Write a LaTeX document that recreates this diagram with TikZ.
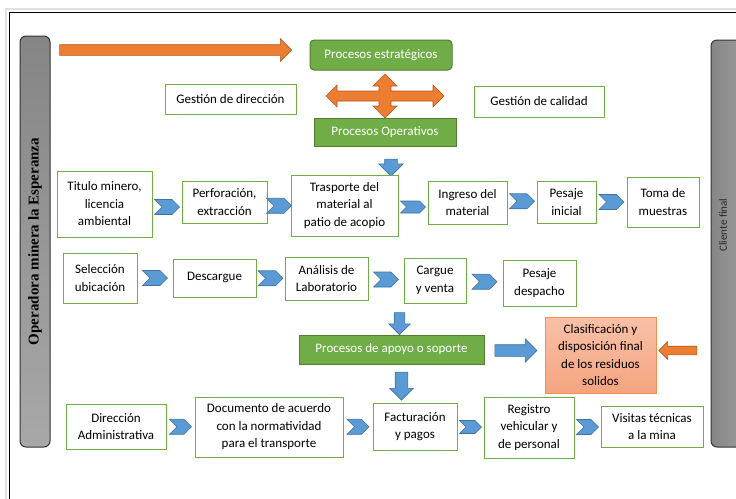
\documentclass[tikz,border=0pt]{standalone}
\usepackage{fontspec}
\setmainfont{Carlito}
\newfontfamily\tituloserif{Liberation Serif}
\usetikzlibrary{positioning,calc,shapes.symbols,shapes.arrows}
\definecolor{verde}{HTML}{70AD47}
\definecolor{verdeborde}{HTML}{507E32}
\definecolor{azul}{HTML}{5B9BD5}
\definecolor{azulborde}{HTML}{41719C}
\definecolor{naranja}{HTML}{ED7D31}
\definecolor{naranjaborde}{HTML}{AE5A21}
\definecolor{salmonclaro}{HTML}{F8C1A8}
\definecolor{salmon}{HTML}{F4A47F}
\definecolor{grisoscuro}{HTML}{858585}
\definecolor{grisclaro}{HTML}{A8A8A8}
\tikzset{
  caja/.style={draw=verde, fill=white, line width=1pt, align=center, inner sep=0pt,
    font=\fontsize{13}{17.5}\selectfont},
  proceso/.style={caja, fill=verde, draw=verdeborde, text=white},
  chevron/.style={signal, signal from=west, signal to=east, fill=azul, draw=azulborde,
    line width=0.6pt, minimum width=25pt, minimum height=15pt, inner sep=0pt},
  bloque/.style={single arrow, single arrow head indent=0pt, inner xsep=0pt, line width=0.6pt},
  bloqueazul/.style={bloque, fill=azul, draw=azulborde},
  bloquenaranja/.style={bloque, fill=naranja, draw=naranjaborde},
  bajada/.style={bloqueazul, shape border rotate=270, inner ysep=0pt},
  barra/.style={draw=black!80, rounded corners=6pt, line width=1pt, inner sep=0pt}
}

\begin{document}
\begin{tikzpicture}[x=1pt, y=-1pt]
  \clip (0,0) rectangle (736,498);
  \fill[white] (0,0) rectangle (736,498);
  % marcos
  \draw[black!12, line width=2pt] (6,9) rectangle (800,600);
  \draw[black, line width=1.2pt] (9.5,12.5) rectangle (800,600);

  % barras laterales
  \node[barra, rotate=90, top color=grisoscuro, bottom color=grisclaro,
    minimum width=411pt, minimum height=30pt,
    font=\tituloserif\bfseries\fontsize{15}{18}\selectfont] (operadora) at (35,241.5)
    {Operadora minera la Esperanza};
  \node[barra, left color=grisoscuro, right color=grisclaro,
    minimum width=50pt, minimum height=407pt] (cliente) at (736,243.5) {};
  \node[rotate=90, text=black!85, font=\fontsize{11}{14}\selectfont] (clientetxt)
    at (723,225) {Cliente final};

  % procesos estrategicos
  \node[proceso, rounded corners=4pt, minimum width=142pt, minimum height=30pt] (estr) at (381,55) {Procesos estratégicos};
  \node[caja, minimum width=131pt, minimum height=30pt] (direccion) at (230.5,99) {Gestión de dirección};
  \node[caja, minimum width=130pt, minimum height=31pt] (calidad) at (539,101.5) {Gestión de calidad};
  \node[proceso, minimum width=142pt, minimum height=28pt] (oper) at (385,132) {Procesos Operativos};

  \node[bloquenaranja, minimum height=232pt, inner ysep=5pt, single arrow head extend=6pt] (flechaestr) at (173,50) {};
  \draw[fill=naranja, draw=naranjaborde, line width=0.6pt]
    (385,74) -- (397,86) -- (391,86) -- (391,91) -- (433,91) -- (433,85) -- (444,96)
    -- (433,107) -- (433,101) -- (391,101) -- (391,106) -- (397,106) -- (385,118)
    -- (373,106) -- (379,106) -- (379,101) -- (337,101) -- (337,107) -- (326,96)
    -- (337,85) -- (337,91) -- (379,91) -- (379,86) -- (373,86) -- cycle;

  \node[bajada, minimum height=17pt, inner xsep=6pt, single arrow head extend=6pt] (baja1) at (391,164.5) {};

  % fila 1
  \node[caja, minimum width=95pt, minimum height=66pt] (titulo) at (104.5,204) {Titulo minero,\\licencia\\ambiental};
  \node[caja, minimum width=85pt, minimum height=42pt] (perf) at (224.5,202) {Perforación,\\extracción};
  \node[caja, minimum width=107pt, minimum height=61pt] (trasp) at (344.5,205.5) {Trasporte del\\material al\\patio de acopio};
  \node[caja, minimum width=79pt, minimum height=43pt] (ingreso) at (467.5,202.5) {Ingreso del\\material};
  \node[caja, minimum width=59pt, minimum height=42pt] (pesaje) at (566.5,202) {Pesaje\\inicial};
  \node[caja, minimum width=72pt, minimum height=50pt] (toma) at (663,202) {Toma de\\muestras};

  \node[chevron] (c1) at ($(titulo.east)!0.5!(perf.west)+(0,4)$) {};
  \node[chevron] (c2) at ($(perf.east)!0.5!(trasp.west)+(0,2)$) {};
  \node[chevron, minimum height=12pt] (c3) at ($(trasp.east)!0.5!(ingreso.west)+(0,3)$) {};
  \node[chevron] (c4) at ($(ingreso.east)!0.5!(pesaje.west)+(0,-1)$) {};
  \node[chevron] (c5) at ($(pesaje.east)!0.5!(toma.west)$) {};

  % fila 2
  \node[caja, minimum width=74pt, minimum height=50pt] (seleccion) at (100,278) {Selección\\ubicación};
  \node[caja, minimum width=83pt, minimum height=38pt] (descargue) at (214.5,278) {\raisebox{4pt}{Descargue}};
  \node[caja, minimum width=83pt, minimum height=43pt] (analisis) at (326.5,278.5) {Análisis de\\Laboratorio};
  \node[caja, minimum width=62pt, minimum height=45pt] (cargue) at (435,280.5) {Cargue\\y venta};
  \node[caja, minimum width=73pt, minimum height=46pt] (despacho) at (539.5,283) {Pesaje\\despacho};

  \node[chevron] (c6) at ($(seleccion.east)!0.5!(descargue.west)$) {};
  \node[chevron] (c7) at ($(descargue.east)!0.5!(analisis.west)$) {};
  \node[chevron] (c8) at ($(analisis.east)!0.5!(cargue.west)$) {};
  \node[chevron] (c9) at ($(cargue.east)!0.5!(despacho.west)$) {};

  % apoyo
  \node[bajada, minimum height=22pt, inner xsep=5pt, single arrow head extend=5.5pt] (baja2) at (399.5,321) {};
  \node[proceso, minimum width=185pt, minimum height=29pt] (apoyo) at (391.5,349.5) {Procesos de apoyo o soporte};
  \node[bloqueazul, minimum height=42pt, inner ysep=5.5pt, single arrow head extend=6pt] (derecha) at (513,350.5) {};
  \node[caja, draw=naranja!85, top color=salmonclaro, bottom color=salmon,
    minimum width=111pt, minimum height=76pt] (clasif) at (600.5,355)
    {Clasificación y\\disposición final\\de los residuos\\solidos};
  \node[bloquenaranja, shape border rotate=180, minimum height=38pt, inner ysep=4pt, single arrow head extend=4.5pt] (izquierda) at (680,350.5) {};
  \node[bajada, minimum height=28pt, inner xsep=6pt, single arrow head extend=5.5pt] (baja3) at (401.5,383) {};

  % fila 3
  \node[caja, minimum width=100pt, minimum height=45pt] (diradm) at (116,426.5) {Dirección\\Administrativa};
  \node[caja, minimum width=148pt, minimum height=60pt] (documento) at (269,427) {Documento de acuerdo\\con la normatividad\\para el transporte};
  \node[caja, minimum width=84pt, minimum height=47pt] (factura) at (415,426.5) {Facturación\\y pagos};
  \node[caja, minimum width=90pt, minimum height=61pt] (registro) at (529,427.5) {Registro\\vehicular y\\de personal};
  \node[caja, minimum width=102pt, minimum height=41pt] (visitas) at (652,426.5) {Visitas técnicas\\a la mina};

  \node[chevron, minimum width=22pt] (c10) at ($(diradm.east)!0.5!(documento.west)$) {};
  \node[chevron, minimum width=22pt] (c11) at ($(documento.east)!0.5!(factura.west)$) {};
  \node[chevron, minimum width=22pt, minimum height=13pt] (c12) at ($(factura.east)!0.5!(registro.west)$) {};
  \node[chevron, minimum width=22pt] (c13) at ($(registro.east)!0.5!(visitas.west)$) {};
\end{tikzpicture}
\end{document}
